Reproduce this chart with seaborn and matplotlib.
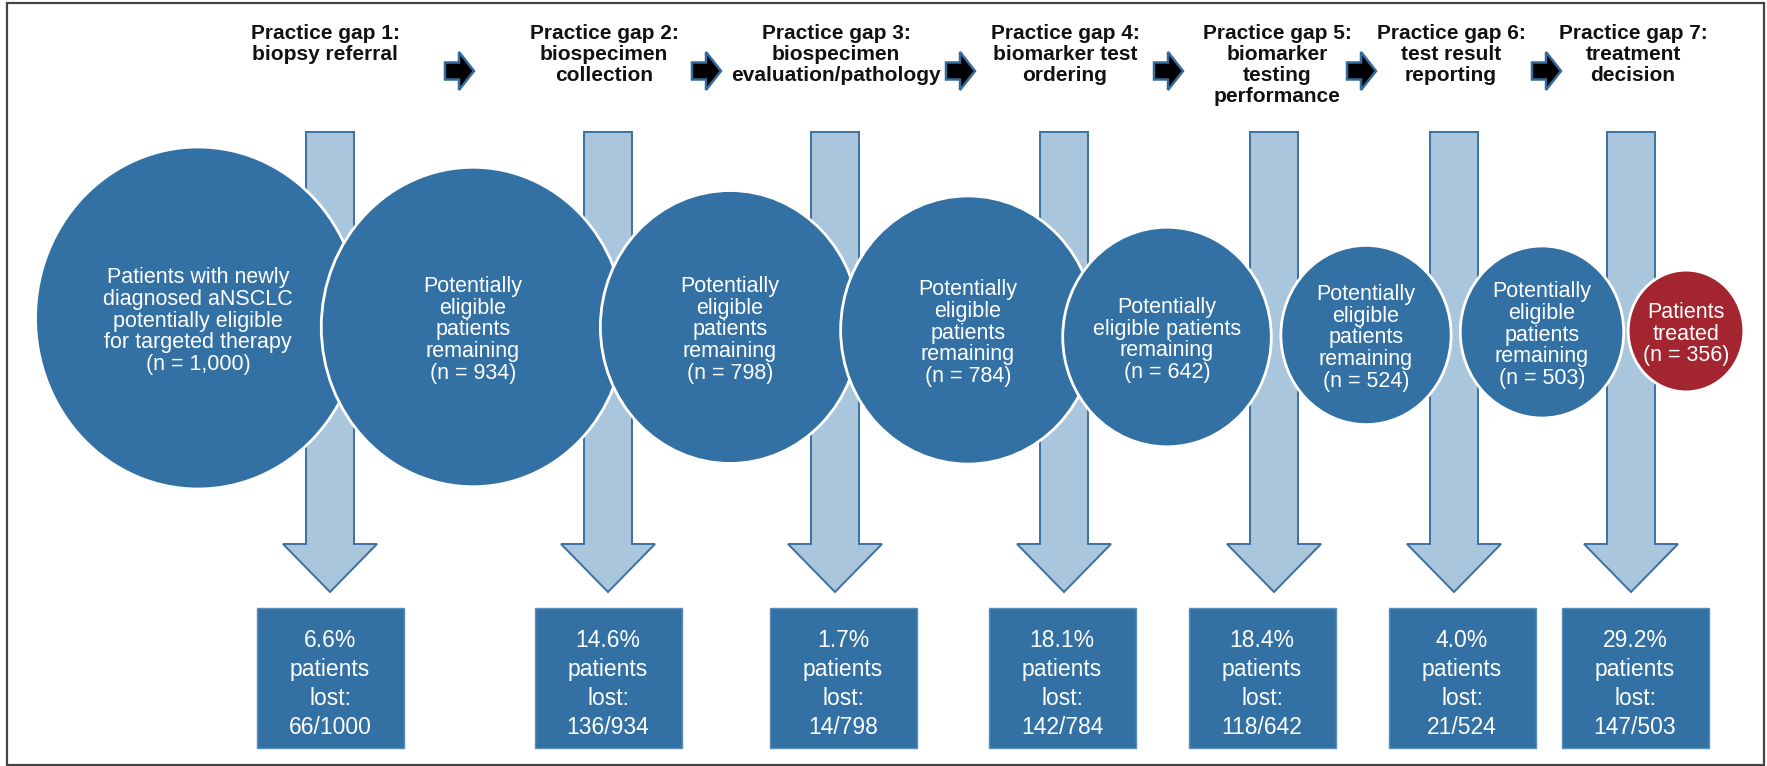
"""Practice-gap attrition diagram: patients remaining after each gap (circles)
and patients lost at each gap (boxes)."""

import matplotlib
matplotlib.use("Agg")
import matplotlib.font_manager as fm
import matplotlib.pyplot as plt
import seaborn as sns
from matplotlib.patches import Ellipse, Polygon, Rectangle

# ---- data -----------------------------------------------------------------
GAP_TITLES = [
    "Practice gap 1:\nbiopsy referral",
    "Practice gap 2:\nbiospecimen\ncollection",
    "Practice gap 3:\nbiospecimen\nevaluation/pathology",
    "Practice gap 4:\nbiomarker test\nordering",
    "Practice gap 5:\nbiomarker\ntesting\nperformance",
    "Practice gap 6:\ntest result\nreporting",
    "Practice gap 7:\ntreatment\ndecision",
]
REMAINING = [1000, 934, 798, 784, 642, 524, 503, 356]
REMAINING_LABELS = [
    "Patients with newly\ndiagnosed aNSCLC\npotentially eligible\nfor targeted therapy\n(n = 1,000)",
    "Potentially\neligible\npatients\nremaining\n(n = 934)",
    "Potentially\neligible\npatients\nremaining\n(n = 798)",
    "Potentially\neligible\npatients\nremaining\n(n = 784)",
    "Potentially\neligible patients\nremaining\n(n = 642)",
    "Potentially\neligible\npatients\nremaining\n(n = 524)",
    "Potentially\neligible\npatients\nremaining\n(n = 503)",
    "Patients\ntreated\n(n = 356)",
]
LOST = [66, 136, 14, 142, 118, 21, 147]
LOST_PCT = ["6.6%", "14.6%", "1.7%", "18.1%", "18.4%", "4.0%", "29.2%"]

# ---- layout (pixel space of the 1767 x 766 canvas) --------------------------
W, H = 1767, 766
CIRCLE_X = [198, 473, 730, 968, 1167, 1366, 1542, 1686]
CIRCLE_Y = [318, 327, 327, 330, 337, 335, 332, 331]
PX_PER_PATIENT = 0.171          # circle radius per patient
ASPECT = 0.95                   # circles are slightly squeezed horizontally
GAP_X = [330, 608, 835, 1064, 1274, 1454, 1631]
BOX_X = [330, 608, 843, 1062, 1262, 1462, 1635]
TITLE_X = [325, 604, 836, 1065, 1277, 1451, 1633]
CHEVRON_X = [459, 706, 960, 1168, 1361, 1546]

BLUE = "#3371a4"
RED = "#a3252f"
PALE = "#a9c6dd"
EDGE = "#3c70a2"
INK = "#111111"

sns.set_theme(style="white")
plt.rcParams["font.family"] = ["Liberation Sans", "DejaVu Sans"]

# condensed face for titles and boxes when the narrow Liberation cut is present
_installed = {f.name for f in fm.fontManager.ttflist}
HAS_NARROW = "Liberation Sans Narrow" in _installed
NARROW = ["Liberation Sans Narrow", "Liberation Sans", "DejaVu Sans"] if HAS_NARROW \
    else ["Liberation Sans", "DejaVu Sans"]
TITLE_SIZE = 17.5 if HAS_NARROW else 15
BOX_SIZE = 19 if HAS_NARROW else 16.5

fig = plt.figure(figsize=(W / 100, H / 100), dpi=100)
ax = fig.add_axes([0, 0, 1, 1])
ax.set_xlim(0, W)
ax.set_ylim(H, 0)
ax.axis("off")

# frame
ax.add_patch(Rectangle((7, 3), 1757, 762, fill=False, ec="#444444", lw=1.6, zorder=0))

# gap titles and small black chevrons
for x, title in zip(TITLE_X, GAP_TITLES):
    ax.text(x, 24, title, ha="center", va="top", fontsize=TITLE_SIZE, weight="bold",
            color=INK, linespacing=1.14, family=NARROW)
for x in CHEVRON_X:
    y = 71
    pts = [(x - 14, y - 8.5), (x, y - 8.5), (x, y - 19), (x + 15, y),
           (x, y + 19), (x, y + 8.5), (x - 14, y + 8.5)]
    ax.add_patch(Polygon(pts, closed=True, fc="black", ec="#356a9c", lw=1.8, zorder=3))

# downward "lost" arrows (behind the circles)
for x in GAP_X:
    pts = [(x - 24, 132), (x + 24, 132), (x + 24, 544), (x + 47, 544),
           (x, 592), (x - 47, 544), (x - 24, 544)]
    ax.add_patch(Polygon(pts, closed=True, fc=PALE, ec=EDGE, lw=1.4, zorder=1))

# remaining-patients circles, radius proportional to n
for i, (x, y, n, lab) in enumerate(zip(CIRCLE_X, CIRCLE_Y, REMAINING, REMAINING_LABELS)):
    r = n * PX_PER_PATIENT
    color = RED if i == len(REMAINING) - 1 else BLUE
    ax.add_patch(Ellipse((x, y), 2 * r * ASPECT, 2 * r, fc=color, ec="white",
                         lw=2.0, zorder=2 + i * 0.01))
    ax.text(x, y + 3, lab, ha="center", va="center", fontsize=15.5,
            color="white", linespacing=1.05, zorder=3)

# lost-patients boxes
for x, n_lost, n_prev, pct in zip(BOX_X, LOST, REMAINING[:-1], LOST_PCT):
    ax.add_patch(Rectangle((x - 73.5, 608), 147, 140, fc=BLUE, ec="#5b8cba",
                           lw=1.0, zorder=2))
    ax.text(x, 684, f"{pct}\npatients\nlost:\n{n_lost}/{n_prev}", ha="center",
            va="center", fontsize=BOX_SIZE, color="white", linespacing=1.32,
            family=NARROW, zorder=3)

fig.savefig("out.png", dpi=100, facecolor="white")
